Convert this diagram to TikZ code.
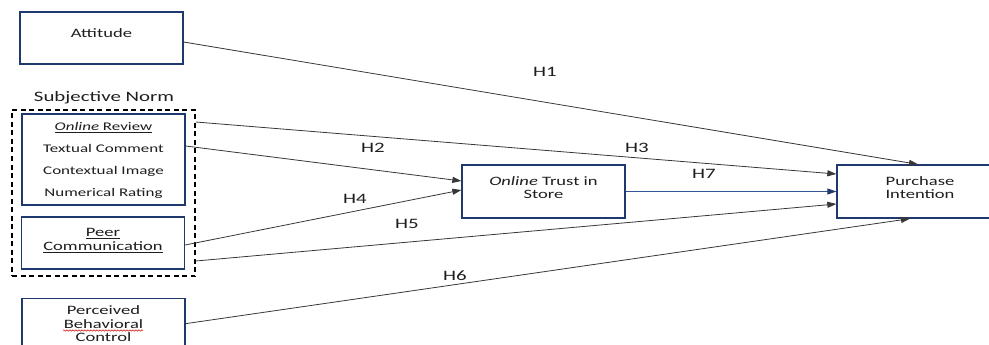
\documentclass[tikz,border=0pt]{standalone}
\usepackage{fontspec}
\setmainfont{Carlito}[FakeStretch=1.45]
\usetikzlibrary{arrows.meta,decorations.pathmorphing}
\definecolor{navy}{RGB}{31,56,110}
\definecolor{linkblue}{RGB}{47,85,151}
\definecolor{linegray}{RGB}{55,55,55}
\definecolor{txt}{RGB}{30,30,30}
\newcommand{\boxlines}[2][4pt]{\raisebox{#1}[\height][\depth]{\begin{tabular}{@{}c@{}}#2\end{tabular}}}
\begin{document}
\begin{tikzpicture}[x=1pt,y=-1pt,
  box/.style={draw=navy, line width=1.3pt, fill=white, minimum width=163pt,
    inner sep=0pt, align=center, text=txt, font=\fontsize{12.8}{13.5}\selectfont},
  conn/.style={draw=linegray, line width=0.8pt, -{Triangle[length=9pt,width=6pt]}},
  bconn/.style={draw=linkblue, line width=0.8pt, -{Triangle[length=9pt,width=6pt,color=navy]}},
  hlab/.style={font=\fontsize{14.4}{16}\selectfont, text=txt, inner sep=0pt},
  group/.style={draw=black, dash pattern=on 5pt off 3.5pt, line width=1.5pt,
    minimum width=183pt, minimum height=166pt, inner sep=0pt}]
\useasboundingbox (0,0) rectangle (989,345);
\clip (0,0) rectangle (989,345);

% group
\node[hlab] (snl) at (104,98) {Subjective Norm};
\node[group] (sn) at (103.5,193) {};

% boxes
\node[box, minimum height=52pt] (att) at (101.5,38) {\boxlines[3.5pt]{Attitude}};
\node[box, minimum height=91pt] (or) at (103.5,159.5)
  {\fontsize{11.7}{22}\selectfont\boxlines[0pt]{\underline{\textit{Online} Review}\\Textual Comment\\Contextual Image\\Numerical Rating}};
\node[box, minimum height=52pt] (peer) at (103,243)
  {\boxlines[2pt]{\underline{Peer}\\\underline{Communication}}};
\node[box, minimum height=56pt, anchor=north] (pbc) at (103.5,298)
  {\boxlines[1pt]{Perceived\\Behavioral\\Control}};
\node[box, minimum height=53pt] (ots) at (543.5,191.5)
  {\boxlines[2pt]{\textit{Online} Trust in\\Store}};
\node[box, minimum height=53pt, minimum width=166pt] (pi) at (920,191.5)
  {\boxlines[2pt]{Purchase\\Intention}};

% spelling squiggle
\draw[red!85!black, line width=0.5pt, decorate,
  decoration={snake, amplitude=0.7pt, segment length=3pt}] (63,330.5) -- (143,330.5);

% connectors
\draw[conn] ([yshift=-4pt]att.east) -- ([xshift=-2pt]pi.north);
\draw[conn] ([yshift=13.5pt]or.east) -- ([yshift=10.5pt]ots.west);
\draw[conn] ([yshift=71pt]sn.east) -- ([yshift=17.5pt]pi.west);
\draw[conn] ([yshift=-2pt]peer.east) -- ([yshift=1.5pt]ots.west);
\draw[conn] ([yshift=-68pt]sn.east) -- ([yshift=-12.5pt]pi.west);
\draw[conn] ([yshift=3pt]pbc.east) -- ([xshift=-10pt]pi.south);
\draw[bconn] (ots.east) -- (pi.west);

% labels
\node[hlab] (h1) at (545,72) {H1};
\node[hlab] (h2) at (373,148) {H2};
\node[hlab] (h3) at (637,148) {H3};
\node[hlab] (h7) at (704,174) {H7};
\node[hlab] (h4) at (355,199) {H4};
\node[hlab] (h5) at (407,224) {H5};
\node[hlab] (h6) at (455,276) {H6};
\end{tikzpicture}
\end{document}
